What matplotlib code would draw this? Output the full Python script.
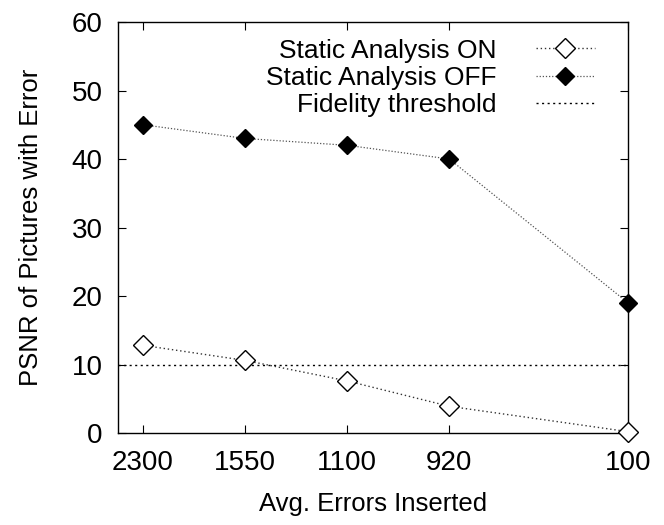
import numpy as np
import matplotlib.pyplot as plt

plt.rcParams['font.family'] = ['Liberation Sans', 'DejaVu Sans']

# data
labels = ['2300', '1550', '1100', '920', '100']
xpos = [0, 1, 2, 3, 4.75]
static_on = [12.8, 10.6, 7.6, 3.9, 0.2]
static_off = [45, 43, 42, 40, 19]
threshold = 10

fig = plt.figure(figsize=(6.64, 5.25), dpi=100)
ax = fig.add_axes([0.1777, 0.1752, 0.7681, 0.7829])

ax.plot(xpos, static_on, linestyle=(0, (1, 2)), color='#333333', linewidth=1.0,
        marker='D', markersize=10, markerfacecolor='white', markeredgecolor='black',
        markeredgewidth=1.0, label='Static Analysis ON', clip_on=False, zorder=3)
ax.plot(xpos, static_off, linestyle=(0, (1, 1.5)), color='#555555', linewidth=0.9,
        marker='D', markersize=9.5, markerfacecolor='black', markeredgecolor='black',
        label='Static Analysis OFF', clip_on=False, zorder=3)
ax.axhline(threshold, linestyle=(0, (1.5, 2.5)), color='black', linewidth=1.0,
           label='Fidelity threshold')

ax.set_xlim(-0.245, 4.75)
ax.set_ylim(0, 60)
ax.set_xticks(xpos)
ax.set_xticklabels(labels)
ax.set_yticks(np.arange(0, 61, 10))
ax.tick_params(direction='in', length=6, width=0.8, top=True, right=True,
               labelsize=20)
ax.tick_params(axis='x', pad=12)
ax.tick_params(axis='y', pad=11)
for s in ax.spines.values():
    s.set_linewidth(1.0)

ax.set_xlabel('Avg. Errors Inserted', fontsize=18.5, labelpad=12)
ax.set_ylabel('PSNR of Pictures with Error', fontsize=18.5, labelpad=21)

leg = ax.legend(loc='upper right', markerfirst=False, frameon=False, fontsize=19,
                handlelength=2.2, handletextpad=1.5, labelspacing=0.12,
                borderaxespad=0.0, bbox_to_anchor=(0.955, 0.985))
vp = leg._legend_box._children[-1]._children[0]
vp.align = 'right'

plt.savefig('out.png', dpi=100)
